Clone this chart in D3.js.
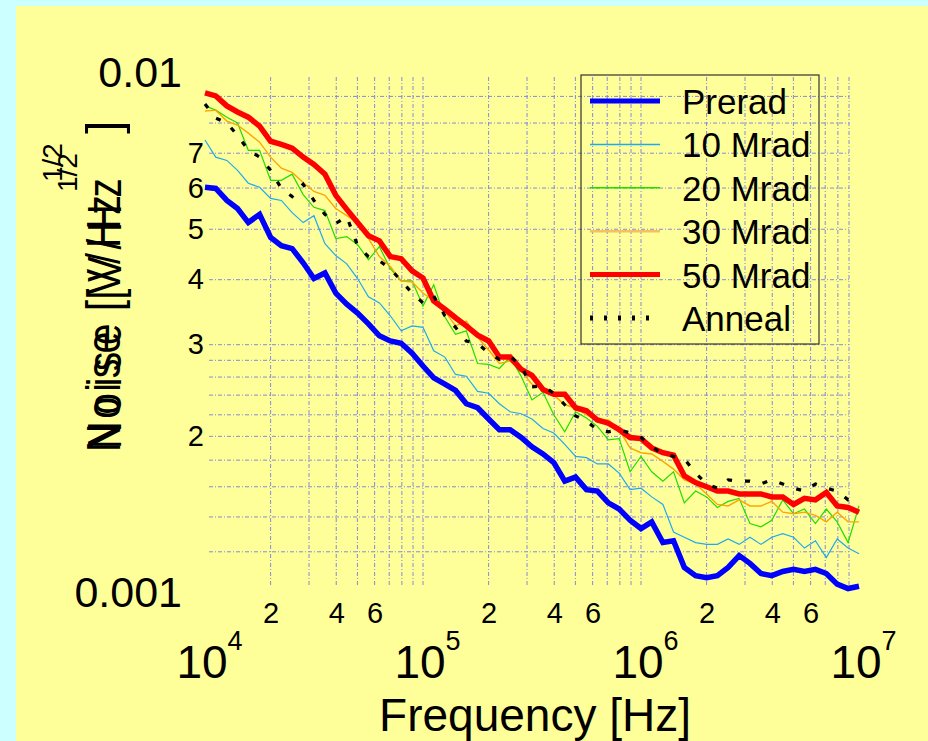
<!DOCTYPE html>
<html>
<head>
<meta charset="utf-8">
<script src="https://cdn.jsdelivr.net/npm/d3@7"></script>
<style>
  html, body { margin: 0; padding: 0; background: #ccffff; }
  svg { display: block; }
  text { font-family: "Liberation Sans", Arial, Helvetica, sans-serif; fill: #000; }
</style>
</head>
<body>
<div id="chart"></div>
<script>
// frequency points [Hz]
const freqHz = [1.00e4,1.12e4,1.26e4,1.41e4,1.58e4,1.78e4,2.00e4,2.24e4,2.51e4,2.82e4,
    3.16e4,3.55e4,3.98e4,4.47e4,5.01e4,5.62e4,6.31e4,7.08e4,7.94e4,8.91e4,
    1.00e5,1.12e5,1.26e5,1.41e5,1.58e5,1.78e5,2.00e5,2.24e5,2.51e5,2.82e5,
    3.16e5,3.55e5,3.98e5,4.47e5,5.01e5,5.62e5,6.31e5,7.08e5,7.94e5,8.91e5,
    1.00e6,1.12e6,1.26e6,1.41e6,1.58e6,1.78e6,2.00e6,2.24e6,2.51e6,2.82e6,
    3.16e6,3.55e6,3.98e6,4.47e6,5.01e6,5.62e6,6.31e6,7.08e6,7.94e6,8.91e6,
    1.00e7];

// noise, in units of 1e-3 V/Hz^1/2
const prerad = [6.02,5.99,5.68,5.48,5.15,5.34,4.82,4.65,4.59,4.31,
    4.02,4.12,3.77,3.59,3.45,3.29,3.12,3.05,3.02,2.89,
    2.73,2.59,2.52,2.45,2.31,2.27,2.16,2.06,2.06,1.99,
    1.91,1.85,1.78,1.64,1.67,1.58,1.57,1.49,1.45,1.38,
    1.33,1.37,1.25,1.26,1.12,1.08,1.07,1.08,1.12,1.18,
    1.14,1.09,1.08,1.10,1.11,1.10,1.11,1.09,1.04,1.02,
    1.03];
const mrad10 = [7.42,6.88,6.78,6.49,6.13,6.02,5.73,5.68,5.38,5.15,
    5.31,4.69,4.45,4.29,4.02,3.71,3.61,3.41,3.19,3.26,
    3.24,2.92,2.84,2.63,2.61,2.44,2.42,2.31,2.23,2.21,
    2.16,2.07,2.03,1.93,1.83,1.82,1.77,1.77,1.70,1.58,
    1.59,1.53,1.48,1.31,1.28,1.25,1.24,1.24,1.27,1.24,
    1.28,1.24,1.28,1.30,1.28,1.22,1.26,1.17,1.27,1.22,
    1.19];
const mrad20 = [8.63,8.47,8.21,8.00,7.09,7.09,6.21,6.21,6.38,5.83,
    5.51,5.43,4.80,4.84,4.67,4.37,4.63,4.20,3.98,3.98,
    3.56,3.91,3.39,3.14,3.19,2.76,2.75,2.70,2.84,2.61,
    2.35,2.43,2.20,2.04,2.23,2.17,2.09,1.97,1.98,1.71,
    1.83,1.71,1.64,1.71,1.49,1.57,1.53,1.46,1.50,1.52,
    1.36,1.34,1.38,1.51,1.42,1.45,1.36,1.45,1.37,1.25,
    1.47];
const mrad30 = [8.44,8.47,8.07,7.93,7.65,7.35,6.88,6.55,6.43,6.15,
    5.91,5.81,5.48,5.31,5.15,4.80,4.43,4.24,3.98,3.96,
    3.77,3.64,3.48,3.26,3.33,3.10,2.93,2.76,2.79,2.67,
    2.52,2.47,2.40,2.30,2.27,2.20,2.15,2.15,2.06,1.90,
    1.86,1.85,1.79,1.73,1.65,1.62,1.55,1.48,1.47,1.51,
    1.47,1.47,1.50,1.43,1.42,1.43,1.41,1.37,1.43,1.37,
    1.37];
const mrad50 = [9.14,9.02,8.63,8.40,8.21,7.89,7.38,7.28,7.16,6.88,
    6.66,6.38,5.81,5.46,5.15,4.86,4.75,4.43,4.39,4.16,
    4.03,3.64,3.51,3.38,3.26,3.13,3.05,2.84,2.84,2.69,
    2.62,2.46,2.41,2.41,2.27,2.24,2.15,2.12,2.06,1.99,
    1.98,1.90,1.86,1.84,1.68,1.63,1.60,1.57,1.57,1.55,
    1.55,1.55,1.53,1.53,1.48,1.52,1.51,1.56,1.47,1.46,
    1.43];
const anneal = [8.70,8.18,8.00,7.58,7.09,6.88,6.49,5.99,5.78,6.10,
    5.68,5.34,5.13,5.29,4.65,4.43,4.35,4.20,3.98,3.77,
    3.61,3.72,3.41,3.24,3.05,3.02,2.89,2.81,2.85,2.73,
    2.49,2.50,2.42,2.30,2.19,2.14,2.06,2.04,2.06,2.03,
    1.99,1.91,1.85,1.83,1.81,1.70,1.62,1.59,1.65,1.64,
    1.64,1.62,1.65,1.62,1.59,1.57,1.62,1.59,1.57,1.51,
    1.51];

const seriesNames = ["Prerad", "10 Mrad", "20 Mrad", "30 Mrad", "50 Mrad", "Anneal"];

// ticks and labels
const xMajorTicks = [1e4, 1e5, 1e6, 1e7];
const xMajorExp = ["4", "5", "6", "7"];
const xMinorTicks = [2e4, 4e4, 6e4, 2e5, 4e5, 6e5, 2e6, 4e6, 6e6];
const xMinorLabels = ["2", "4", "6", "2", "4", "6", "2", "4", "6"];
const yMajorTicks = [1, 10];
const yMajorLabels = ["0.001", "0.01"];
const yMinorTicks = [2, 3, 4, 5, 6, 7];
const xGridTicks = [2e4,3e4,4e4,5e4,6e4,7e4,8e4,9e4,1e5,2e5,3e5,4e5,5e5,6e5,7e5,8e5,9e5,
    1e6,2e6,3e6,4e6,5e6,6e6,7e6,8e6,9e6];
const yGridTicks = [1.2,1.4,1.6,1.8,2,2.2,2.4,2.6,2.8,3,4,5,6,7,8,9];

const width = 928,
    height = 741;

const svg = d3.select("#chart")
    .append("svg")
    .attr("width", width)
    .attr("height", height);

// yellow panel
svg.append("rect")
    .attr("x", 16).attr("y", 6)
    .attr("width", width - 16).attr("height", height - 6)
    .attr("fill", "#ffff99");

const x = d3.scaleLog().domain([1e4, 1e7]).range([205, 859]);
const y = d3.scaleLog().domain([1, 10]).range([593, 72.6]);

// grid
const grid = svg.append("g")
    .attr("stroke", "#6a6af0")
    .attr("stroke-width", 1)
    .attr("stroke-dasharray", "4,2,1,2")
    .attr("opacity", 0.8);

grid.selectAll(".vgrid")
    .data(xGridTicks)
    .join("line")
    .attr("class", "vgrid")
    .attr("x1", d => x(d)).attr("x2", d => x(d))
    .attr("y1", 77).attr("y2", 586);

grid.selectAll(".hgrid")
    .data(yGridTicks)
    .join("line")
    .attr("class", "hgrid")
    .attr("x1", 209).attr("x2", 849)
    .attr("y1", d => y(d)).attr("y2", d => y(d));

// series
const series = [prerad, mrad10, mrad20, mrad30, mrad50, anneal];
const colors = ["#0000ff", "#1eaaf0", "#22dd00", "#ffa500", "#ff0000", "#000000"];
const widths = [5.5, 1.2, 1.2, 1.4, 5.5, 3.2];
const dashes = [null, null, null, null, null, "5,13"];

const line = d3.line()
    .x((d, i) => x(freqHz[i]))
    .y(d => y(d));

svg.append("g").selectAll("path")
    .data(series)
    .join("path")
    .attr("d", d => line(d))
    .attr("fill", "none")
    .attr("stroke", (d, i) => colors[i])
    .attr("stroke-width", (d, i) => widths[i])
    .attr("stroke-dasharray", (d, i) => dashes[i])
    .attr("stroke-linejoin", "miter");

// y axis labels
svg.append("g")
    .attr("transform", "translate(205,0)")
    .call(d3.axisLeft(y).tickValues(yMajorTicks)
        .tickFormat((d, i) => yMajorLabels[i]).tickSize(0).tickPadding(23))
    .call(g => g.select(".domain").remove())
    .attr("font-size", 43)
    .attr("font-family", null);

svg.append("g")
    .attr("transform", "translate(205,0)")
    .call(d3.axisLeft(y).tickValues(yMinorTicks)
        .tickFormat(d => d).tickSize(0).tickPadding(1))
    .call(g => g.select(".domain").remove())
    .attr("font-size", 29)
    .attr("font-family", null);

// x axis labels
svg.append("g")
    .attr("transform", "translate(0,602)")
    .call(d3.axisBottom(x).tickValues(xMinorTicks)
        .tickFormat((d, i) => xMinorLabels[i]).tickSize(0).tickPadding(0))
    .call(g => g.select(".domain").remove())
    .attr("font-size", 29)
    .attr("font-family", null);

const xMajor = svg.append("g")
    .attr("transform", "translate(0,645)")
    .call(d3.axisBottom(x).tickValues(xMajorTicks)
        .tickFormat(() => "10").tickSize(0).tickPadding(0))
    .call(g => g.select(".domain").remove())
    .attr("font-size", 46)
    .attr("font-family", null);

xMajor.selectAll(".tick text")
    .attr("dx", 4)
    .append("tspan")
    .attr("dy", -28)
    .attr("font-size", 27)
    .text((d, i) => xMajorExp[i]);

svg.append("text")
    .attr("x", 535).attr("y", 731)
    .attr("text-anchor", "middle")
    .attr("font-size", 46)
    .text("Frequency [Hz]");

// y title (doubled and condensed, as in the original)
function rotText(tx, ty, size, str, spacing, squeeze) {
    return svg.append("text")
        .attr("transform", `translate(${tx},${ty}) rotate(-90) scale(${squeeze},1)`)
        .attr("font-size", size)
        .attr("letter-spacing", spacing)
        .text(str);
}
rotText(120, 452, 48, "Noise [V/Hz", 6, 0.82);
rotText(121, 449, 48, "Noise [V/Hz", 8.5, 0.8);
rotText(62, 182, 28, "1/2", 0, 1);
rotText(77, 192, 28, "1/2", 0, 1);
rotText(120, 134, 49, "]", 0, 1);

// legend
const legend = svg.append("g");
legend.append("rect")
    .attr("x", 581).attr("y", 75)
    .attr("width", 238).attr("height", 269)
    .attr("fill", "none")
    .attr("stroke", "#333")
    .attr("stroke-width", 1.2);

const legendDash = [null, null, null, null, null, "3,11"];
const legendWidth = [5, 1.5, 1.5, 2.5, 5, 5];
const legendColors = ["#0000ff", "#1eaaf0", "#22dd00", "#f5c060", "#ff0000", "#000000"];

const items = legend.selectAll(".item")
    .data(seriesNames)
    .join("g")
    .attr("class", "item")
    .attr("transform", (d, i) => `translate(0,${101 + i * 43.4})`);

items.append("line")
    .attr("x1", 590).attr("x2", 660)
    .attr("stroke", (d, i) => legendColors[i])
    .attr("stroke-width", (d, i) => legendWidth[i])
    .attr("stroke-dasharray", (d, i) => legendDash[i]);

items.append("text")
    .attr("x", 682).attr("y", 13)
    .attr("font-size", 35)
    .text(d => d);
</script>
</body>
</html>
